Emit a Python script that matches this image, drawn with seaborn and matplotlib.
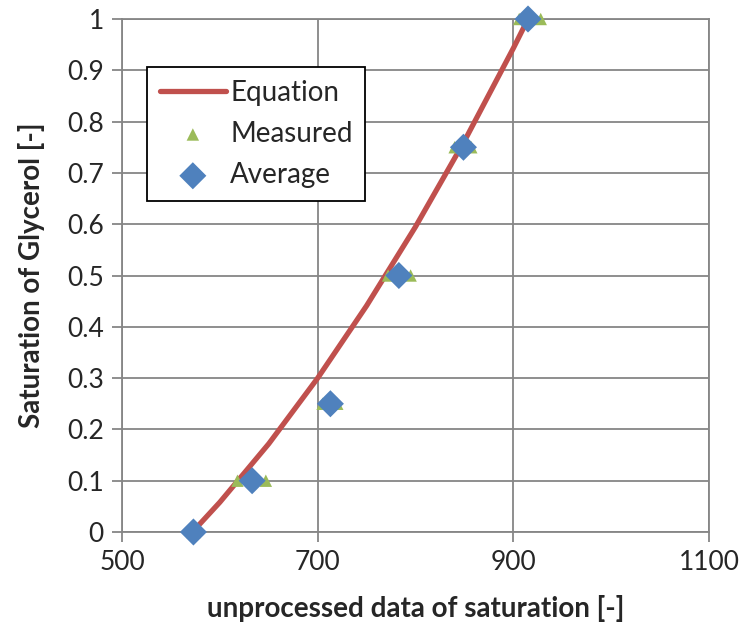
import numpy as np
import pandas as pd
import matplotlib
matplotlib.use("Agg")
import matplotlib.pyplot as plt
import seaborn as sns

# values
equation_x = [572, 600, 650, 700, 750, 800, 850, 900, 915]
equation_y = [0.0, 0.058, 0.172, 0.30, 0.441, 0.595, 0.762, 0.943, 1.0]

measured_x = [572, 574, 618, 647, 705, 720, 772, 795, 840, 857, 906, 928]
measured_y = [0, 0, 0.1, 0.1, 0.25, 0.25, 0.5, 0.5, 0.75, 0.75, 1.0, 1.0]

average_x = [573, 633, 713, 783, 849, 915]
average_y = [0, 0.1, 0.25, 0.5, 0.75, 1.0]

x_ticks = [500, 700, 900, 1100]
y_ticks = [0, 0.1, 0.2, 0.3, 0.4, 0.5, 0.6, 0.7, 0.8, 0.9, 1]

sns.set_style("white")
plt.rcParams["font.family"] = ["Lato", "DejaVu Sans"]

grid_color = "#868686"

fig = plt.figure(figsize=(7.44, 6.39), dpi=100)
ax = fig.add_axes([122 / 744, 1 - 532 / 639, (709 - 122) / 744, (532 - 19) / 639])

sns.lineplot(x=equation_x, y=equation_y, color="#C0504D", linewidth=3.8,
             label="Equation", ax=ax, zorder=3)
sns.scatterplot(x=measured_x, y=measured_y, marker="^", color="#9BBB59",
                s=80, edgecolor="none", label="Measured", ax=ax, zorder=4)
sns.scatterplot(x=average_x, y=average_y, marker="D", color="#4F81BD",
                s=190, edgecolor="none", label="Average", ax=ax, zorder=5)
for coll in ax.collections:
    coll.set_clip_on(False)

ax.set(xlim=(500, 1100), ylim=(0, 1))
ax.set_xticks(x_ticks)
ax.set_xticklabels([str(t) for t in x_ticks])
ax.set_yticks(y_ticks)
ax.set_yticklabels(["0" if t == 0 else ("1" if t == 1 else f"{t:g}") for t in y_ticks])
ax.grid(True, color=grid_color, linewidth=1.3)
ax.set_axisbelow(True)
for side in ["left", "right", "top", "bottom"]:
    ax.spines[side].set_color(grid_color)
    ax.spines[side].set_linewidth(1.3)
ax.tick_params(axis="both", which="both", direction="out", length=7, width=1.3,
               color=grid_color, labelsize=19, pad=6, left=True, bottom=True)

ax.set_xlabel("unprocessed data of saturation [-]", fontsize=20,
              fontweight="bold", labelpad=14)
ax.set_ylabel("Saturation of Glycerol [-]", fontsize=20,
              fontweight="bold", labelpad=16)

leg = ax.legend(loc="upper left", bbox_to_anchor=(25 / 587, 1 - 48 / 513),
                fontsize=20, frameon=True, fancybox=False, framealpha=1,
                borderpad=0.45, handlelength=2.4, handletextpad=0.15,
                labelspacing=0.55, borderaxespad=0)
leg.get_frame().set_edgecolor("black")
leg.get_frame().set_linewidth(1.3)

fig.savefig("out.png", dpi=100)
